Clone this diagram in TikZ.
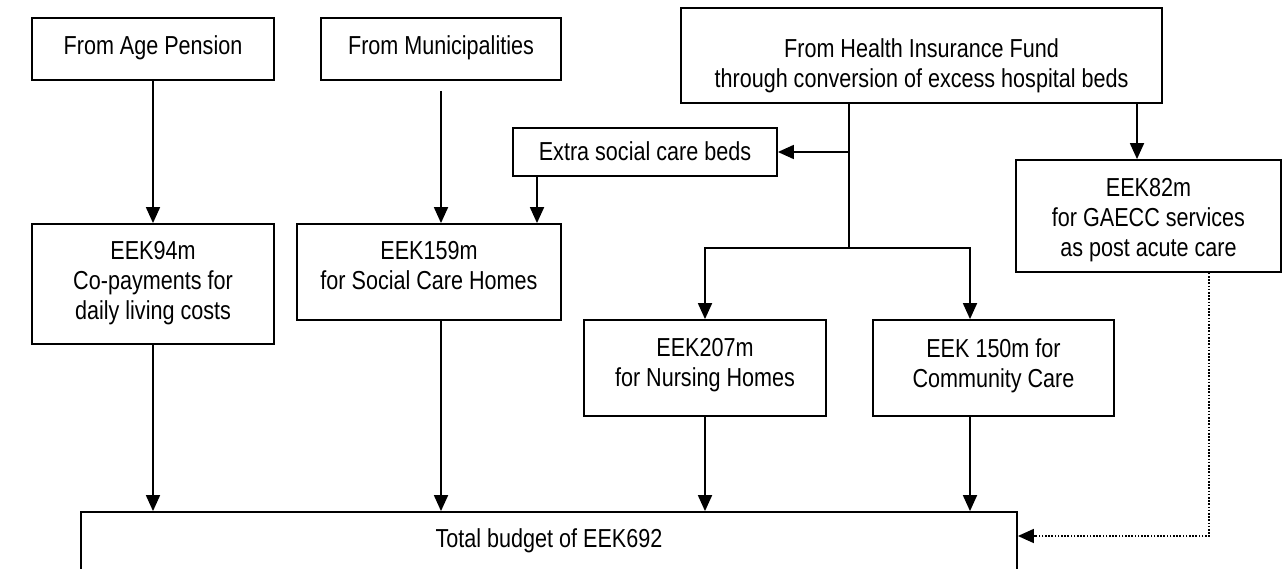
\documentclass[tikz,border=0pt]{standalone}
\usepackage{fontspec}
\setmainfont[FakeStretch=0.83]{Liberation Sans}
\usetikzlibrary{arrows.meta}
\begin{document}
\begin{tikzpicture}[x=1pt,y=-1pt,
  box/.style={draw, line width=1.8pt, inner sep=0pt},
  lbl/.style={anchor=north, inner sep=0pt, align=center,
              font=\fontsize{26}{30}\selectfont},
  flow/.style={line width=1.8pt, -{Triangle[width=14pt,length=16pt]}},
  feed/.style={line width=1.8pt},
  aux/.style={line width=1.6pt, dash pattern=on 1.6pt off 1.6pt,
              -{Triangle[width=14pt,length=16pt]}}]
\useasboundingbox (0,0) rectangle (1285,569);
\clip (0,0) rectangle (1285,569);

% funding sources
\node[box, minimum width=242pt, minimum height=62pt] (age) at (153,49) {};
\node[box, minimum width=240pt, minimum height=62pt] (muni) at (441,49) {};
\node[box, minimum width=481pt, minimum height=95pt] (hif) at (921.5,55.5) {};
\node[lbl] (age-t) at ([yshift=-18pt]age.north) {From Age Pension};
\node[lbl] (muni-t) at ([yshift=-18pt]muni.north) {From Municipalities};
\node[lbl] (hif-t) at ([yshift=-31pt]hif.north) {From Health Insurance Fund\\through conversion of excess hospital beds};

% intermediate and allocated amounts
\node[box, minimum width=264pt, minimum height=48pt] (extra) at (645,152) {};
\node[box, minimum width=265pt, minimum height=112pt] (gaecc) at (1148.5,216) {};
\node[box, minimum width=242pt, minimum height=120pt] (copay) at (153,284) {};
\node[box, minimum width=264pt, minimum height=96pt] (soc) at (429,272) {};
\node[box, minimum width=242pt, minimum height=96pt] (nurse) at (705,368) {};
\node[box, minimum width=241pt, minimum height=96pt] (comm) at (993.5,368) {};
\node[lbl] (extra-t) at ([yshift=-14pt]extra.north) {Extra social care beds};
\node[lbl] (gaecc-t) at ([yshift=-19pt]gaecc.north) {EEK82m\\for GAECC services\\as post acute care};
\node[lbl] (copay-t) at ([yshift=-18pt]copay.north) {EEK94m\\Co-payments for\\daily living costs};
\node[lbl] (soc-t) at ([yshift=-18pt]soc.north) {EEK159m\\for Social Care Homes};
\node[lbl] (nurse-t) at ([yshift=-19pt]nurse.north) {EEK207m\\for Nursing Homes};
\node[lbl] (comm-t) at ([yshift=-19pt]comm.north) {EEK 150m for\\Community Care};

% total
\node[box, minimum width=936pt, minimum height=100pt] (total) at (549,562) {};
\node[lbl] (total-t) at ([yshift=-17pt]total.north) {Total budget of EEK692};

% routing points
\coordinate (split) at (849,248);
\coordinate (cc-in) at (970,248);
\coordinate (soc-in) at (537,176);
\coordinate (gaecc-in) at (1137,103);
\coordinate (dot-turn) at (1209,536);

% connectors
\draw[flow] (age.south) -- (copay.north);
\draw[flow] ([yshift=-10pt]muni.south) -- (muni.south |- soc.north);
\draw[feed] (split |- hif.south) -- (split);
\draw[flow] (split |- extra.east) -- (extra.east);
\draw[flow] (soc-in |- extra.south) -- (soc-in |- soc.north);
\draw[flow] (split) -| (nurse.north);
\draw[flow] (split) -- (cc-in) -- (cc-in |- comm.north);
\draw[flow] (gaecc-in |- hif.south) -- (gaecc-in |- gaecc.north);

\draw[flow] (copay.south) -- (copay.south |- total.north);
\draw[flow] (muni.south |- soc.south) -- (muni.south |- total.north);
\draw[flow] (nurse.south) -- (nurse.south |- total.north);
\draw[flow] (cc-in |- comm.south) -- (cc-in |- total.north);
\draw[aux] (dot-turn |- gaecc.south) -- (dot-turn) -- (dot-turn -| total.east);
\end{tikzpicture}
\end{document}
